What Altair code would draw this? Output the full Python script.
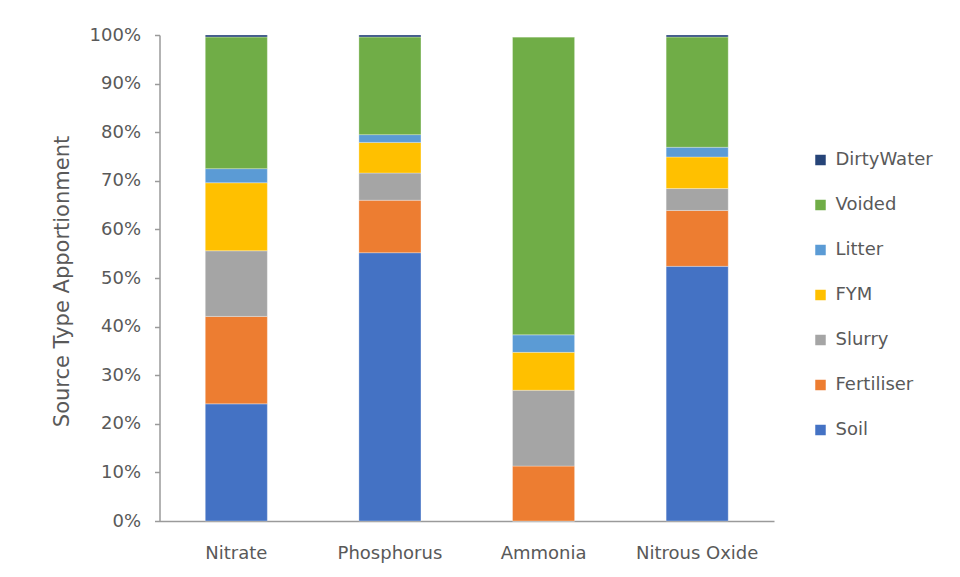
import altair as alt
import pandas as pd

categories = ["Nitrate", "Phosphorus", "Ammonia", "Nitrous Oxide"]
sources = ["Soil", "Fertiliser", "Slurry", "FYM", "Litter", "Voided", "DirtyWater"]
colors = ["#4472C4", "#ED7D31", "#A5A5A5", "#FFC000", "#5B9BD5", "#70AD47", "#264478"]

soil = [24.1, 55.2, 0.0, 52.4]
fertiliser = [18.0, 10.8, 11.3, 11.5]
slurry = [13.5, 5.6, 15.6, 4.5]
fym = [14.0, 6.3, 7.8, 6.5]
litter = [2.9, 1.6, 3.6, 2.0]
voided = [27.1, 20.1, 61.3, 22.7]
dirty_water = [0.4, 0.4, 0.0, 0.4]

series = [soil, fertiliser, slurry, fym, litter, voided, dirty_water]

rows = []
for si, (s, vals) in enumerate(zip(sources, series)):
    for c, v in zip(categories, vals):
        rows.append({"category": c, "source": s, "value": v / 100.0, "order": si})
df = pd.DataFrame(rows)

legend_order = sources[::-1]
legend_colors = colors[::-1]

font = "DejaVu Sans"
grey = "#595959"

chart = alt.Chart(df).mark_bar(stroke="white", strokeWidth=0.5, strokeOpacity=0.6).encode(
    x=alt.X("category:N", sort=categories,
            scale=alt.Scale(paddingInner=0.596, paddingOuter=0.298),
            axis=alt.Axis(title=None, labelAngle=0, ticks=False, labelPadding=23,
                          labelFontSize=18, labelColor=grey, labelFont=font,
                          domainColor="#9a9a9a", domainWidth=1.5)),
    y=alt.Y("value:Q", stack="zero",
            scale=alt.Scale(domain=[0, 1], nice=False),
            axis=alt.Axis(title="Source Type Apportionment", format=".0%",
                          values=[i / 10 for i in range(11)], grid=False,
                          tickSize=5, tickColor="#9a9a9a", domainColor="#9a9a9a",
                          domainWidth=1.5, tickWidth=1.5,
                          labelPadding=14, labelFontSize=18, labelColor=grey, labelFont=font,
                          titleFontSize=21, titleColor=grey, titleFont=font,
                          titleFontWeight="normal", titleX=-97, titleY=246,
                          titleAngle=-90, titleBaseline="middle", titleAlign="center")),
    color=alt.Color("source:N",
                    scale=alt.Scale(domain=legend_order, range=legend_colors),
                    legend=alt.Legend(title=None, orient="none", legendX=652, legendY=116,
                                      symbolType="square", symbolSize=110,
                                      symbolStrokeWidth=0, rowPadding=27,
                                      labelFontSize=18, labelColor=grey, labelFont=font,
                                      labelOffset=6)),
    order=alt.Order("order:Q", sort="ascending"),
).properties(
    width=614.5,
    height=486,
    autosize=alt.AutoSizeParams(type="none"),
    padding={"left": 159.5, "top": 35, "right": 186, "bottom": 56},
).configure_view(stroke=None)

chart.save("out.html", embed_options={"renderer": "svg", "actions": False})
